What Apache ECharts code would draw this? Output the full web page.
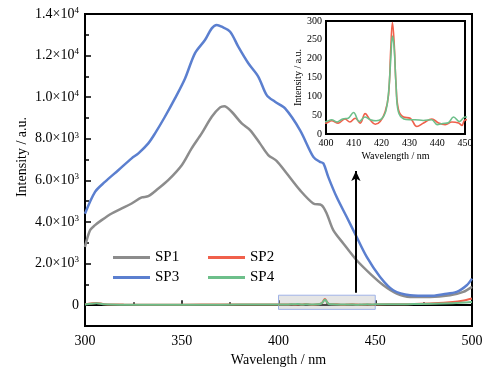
<!DOCTYPE html>
<html>
<head>
<meta charset="utf-8">
<script src="https://cdn.jsdelivr.net/npm/echarts@6/dist/echarts.min.js"></script>
<style>
  html, body { margin: 0; padding: 0; background: #fff; }
  #chart { width: 490px; height: 377px; }
</style>
</head>
<body>
<div id="chart"></div>
<script>
// wavelength / intensity pairs
var sp1Wl  = [300, 302.6, 305.2, 308.6, 313.8, 319, 324.1, 329.3, 332.7, 337.9, 343, 350, 355.1, 360.3, 365.5, 369.8, 372, 375.8, 381, 385.3, 390.4, 394.7, 399, 404.2, 411.1, 418, 422.3, 424.9, 428.3, 433.5, 440.4, 447.3, 454.2, 461.1, 468, 478.3, 488.6, 495.5, 500];
var sp1Val = [2800, 3600, 3850, 4090, 4410, 4650, 4890, 5180, 5240, 5610, 6010, 6730, 7540, 8260, 9060, 9510, 9570, 9300, 8740, 8420, 7780, 7220, 6940, 6340, 5530, 4890, 4810, 4410, 3610, 2970, 2160, 1520, 960, 560, 400, 400, 480, 640, 880];

var sp3Wl  = [300, 305.2, 310.3, 317.2, 324.1, 327.6, 332.7, 336.2, 341.3, 346.5, 351.7, 356.8, 362, 365.5, 368.1, 370.6, 375, 379.2, 384.4, 389.6, 393.9, 398.2, 403.4, 411.1, 418, 421.4, 423.2, 425.7, 430, 435.2, 439.5, 445.6, 452.5, 459.3, 468, 478.3, 485.2, 492.1, 497.3, 500];
var sp3Val = [4400, 5450, 5930, 6490, 7060, 7300, 7780, 8260, 9060, 9940, 10900, 12110, 12750, 13310, 13470, 13390, 13150, 12430, 11630, 10980, 10100, 9780, 9460, 8420, 7130, 6890, 6820, 6170, 5210, 4250, 3450, 2320, 1360, 720, 480, 450, 530, 640, 960, 1280];

var sp2Wl  = [300, 303, 306, 310, 320, 340, 360, 380, 395, 400, 402, 404.4, 406.8, 408.6, 410.5, 412.3, 414.1, 415.9, 417.7, 419.5, 421.3, 422.5, 423.3, 423.9, 424.5, 425.2, 426.1, 427.9, 430.3, 432.7, 435.1, 438.1, 440.5, 442.9, 445.3, 447.7, 448.9, 450, 460, 470, 480, 490, 495, 500];
var sp2Val = [40, 80, 110, 50, 30, 25, 30, 30, 32, 29, 35, 29, 40, 32, 42, 29, 54, 37, 26, 33, 60, 104, 227, 296, 245, 130, 64, 45, 42, 20, 29, 40, 29, 25, 32, 29, 23, 37, 45, 60, 90, 150, 210, 320];

var sp4Wl  = [300, 303, 306, 310, 320, 340, 360, 380, 395, 400, 402, 404, 406, 408, 409.9, 412, 414, 416, 418, 420, 421.5, 422.5, 423.3, 423.9, 424.5, 425.2, 426, 428, 430, 432, 435, 438, 440, 442, 444, 445.9, 448, 450, 460, 470, 480, 490, 500];
var sp4Val = [30, 70, 95, 40, 25, 20, 25, 28, 30, 33, 38, 32, 40, 42, 57, 33, 45, 38, 35, 40, 60, 110, 200, 260, 230, 130, 60, 40, 38, 38, 36, 38, 25, 28, 30, 45, 33, 45, 45, 55, 65, 95, 150];

var mainXTicks   = [300, 350, 400, 450, 500];
var mainXMinor   = [325, 375, 425, 475];
var mainYTicks   = [0, 2000, 4000, 6000, 8000, 10000, 12000, 14000];
var mainYMinor   = [-1000, 1000, 3000, 5000, 7000, 9000, 11000, 13000];
var mainYLabels  = ['0', '2.0×10{s|3}', '4.0×10{s|3}', '6.0×10{s|3}', '8.0×10{s|3}', '1.0×10{s|4}', '1.2×10{s|4}', '1.4×10{s|4}'];

var seriesNames  = ['SP1', 'SP2', 'SP3', 'SP4'];
var seriesColors = ['#8c8c8c', '#f0604b', '#5b7fcf', '#6dbf8a'];

function pairs(xs, ys) {
  return xs.map(function (x, i) { return [x, ys[i]]; });
}

var font = 'Liberation Serif';
var myChart = echarts.init(document.getElementById('chart'));

var axisText = { color: '#000', fontFamily: font, fontSize: 14 };

var option = {
  backgroundColor: '#fff',
  animation: false,
  color: seriesColors,
  grid: [
    { left: 85, right: 18, top: 14, bottom: 51, show: true, borderColor: '#000', borderWidth: 2 },
    { left: 326, right: 25, top: 21, bottom: 243, show: true, borderColor: '#000', borderWidth: 2, backgroundColor: '#fff', z: 5 }
  ],
  legend: [
    {
      data: ['SP1', 'SP3'], orient: 'vertical', left: 108, top: 245,
      icon: 'rect', itemWidth: 37, itemHeight: 3, itemGap: 5,
      textStyle: { fontFamily: font, fontSize: 15, color: '#000' }
    },
    {
      data: ['SP2', 'SP4'], orient: 'vertical', left: 203, top: 245,
      icon: 'rect', itemWidth: 37, itemHeight: 3, itemGap: 5,
      textStyle: { fontFamily: font, fontSize: 15, color: '#000' }
    }
  ],
  xAxis: [
    {
      gridIndex: 0, type: 'value', min: 300, max: 500,
      name: 'Wavelength / nm', nameLocation: 'middle', nameGap: 27,
      nameTextStyle: axisText,
      axisLine: { lineStyle: { color: '#000', width: 2 } },
      axisTick: { inside: true, length: 5, lineStyle: { color: '#000', width: 1.5 }, customValues: mainXTicks },
      axisLabel: { customValues: mainXTicks, margin: 8, color: '#000', fontFamily: font, fontSize: 14 },
      splitLine: { show: false }
    },
    {
      gridIndex: 0, type: 'value', min: 300, max: 500, position: 'bottom',
      axisLine: { show: false },
      axisTick: { inside: true, length: 3, lineStyle: { color: '#000', width: 1.5 }, customValues: mainXMinor },
      axisLabel: { show: false },
      splitLine: { show: false }
    },
    {
      gridIndex: 1, type: 'value', min: 400, max: 450, interval: 10,
      name: 'Wavelength / nm', nameLocation: 'middle', nameGap: 17,
      nameTextStyle: { color: '#000', fontFamily: font, fontSize: 10 },
      axisLine: { lineStyle: { color: '#000', width: 2 } },
      axisTick: { inside: true, length: 3, lineStyle: { color: '#000' } },
      minorTick: { show: true, splitNumber: 2, length: 2, lineStyle: { color: '#000' } },
      axisLabel: { margin: 4, color: '#000', fontFamily: font, fontSize: 10 },
      splitLine: { show: false }
    }
  ],
  yAxis: [
    {
      gridIndex: 0, type: 'value', min: -1000, max: 14000, position: 'left',
      axisLine: { lineStyle: { color: '#000', width: 2 } },
      axisTick: { inside: true, length: 6, lineStyle: { color: '#000', width: 1.5 }, customValues: mainYTicks },
      axisLabel: {
        customValues: mainYTicks, margin: 6, color: '#000', fontFamily: font, fontSize: 14,
        formatter: function (v) { return mainYLabels[mainYTicks.indexOf(v)]; },
        rich: { s: { fontSize: 9, fontFamily: font, color: '#000', padding: [0, 0, 7, 0] } }
      },
      splitLine: { show: false }
    },
    {
      gridIndex: 0, type: 'value', min: -1000, max: 14000, position: 'left', offset: 0,
      axisLine: { show: false },
      axisTick: { inside: true, length: 4, lineStyle: { color: '#000', width: 1.5 }, customValues: mainYMinor },
      axisLabel: { show: false },
      splitLine: { show: false }
    },
    {
      gridIndex: 1, type: 'value', min: 0, max: 300, interval: 50,
      name: 'Intensity / a.u.', nameLocation: 'middle', nameGap: 21,
      nameTextStyle: { color: '#000', fontFamily: font, fontSize: 10 },
      axisLine: { lineStyle: { color: '#000', width: 2 } },
      axisTick: { inside: true, length: 3, lineStyle: { color: '#000' } },
      minorTick: { show: true, splitNumber: 2, length: 2, lineStyle: { color: '#000' } },
      axisLabel: { margin: 4, color: '#000', fontFamily: font, fontSize: 10 },
      splitLine: { show: false }
    }
  ],
  graphic: [
    {
      type: 'text', x: 22, y: 157, rotation: Math.PI / 2,
      style: { text: 'Intensity / a.u.', fontFamily: font, fontSize: 14, fill: '#000', align: 'center', verticalAlign: 'middle' }
    }
  ],
  series: [
    {
      name: 'SP1', type: 'line', xAxisIndex: 0, yAxisIndex: 0, smooth: 0.3, showSymbol: false,
      data: pairs(sp1Wl, sp1Val), lineStyle: { width: 2.5 },
      markArea: {
        silent: true,
        itemStyle: { color: 'rgba(190,190,190,0.4)', borderColor: '#9fb2e6', borderWidth: 1 },
        data: [[{ coord: [400, -200] }, { coord: [450, 480] }]]
      }
    },
    {
      name: 'SP2', type: 'line', xAxisIndex: 0, yAxisIndex: 0, smooth: 0.3, showSymbol: false,
      data: pairs(sp2Wl, sp2Val), lineStyle: { width: 2 }
    },
    {
      name: 'SP3', type: 'line', xAxisIndex: 0, yAxisIndex: 0, smooth: 0.3, showSymbol: false,
      data: pairs(sp3Wl, sp3Val), lineStyle: { width: 2.5 },
      markLine: {
        silent: true, symbol: ['none', 'arrow'], symbolSize: [7, 10],
        lineStyle: { color: '#000', width: 2, type: 'solid' },
        label: { show: false },
        data: [[{ coord: [440, 600] }, { coord: [440, 6450] }]]
      }
    },
    {
      name: 'SP4', type: 'line', xAxisIndex: 0, yAxisIndex: 0, smooth: 0.3, showSymbol: false,
      data: pairs(sp4Wl, sp4Val), lineStyle: { width: 2 }
    },
    {
      name: 'SP2', type: 'line', xAxisIndex: 2, yAxisIndex: 2, smooth: 0.4, showSymbol: false, z: 10,
      data: pairs(sp2Wl, sp2Val), lineStyle: { width: 1.6 }
    },
    {
      name: 'SP4', type: 'line', xAxisIndex: 2, yAxisIndex: 2, smooth: 0.4, showSymbol: false, z: 10,
      data: pairs(sp4Wl, sp4Val), lineStyle: { width: 1.6 }
    }
  ]
};

myChart.setOption(option);
</script>
</body>
</html>
